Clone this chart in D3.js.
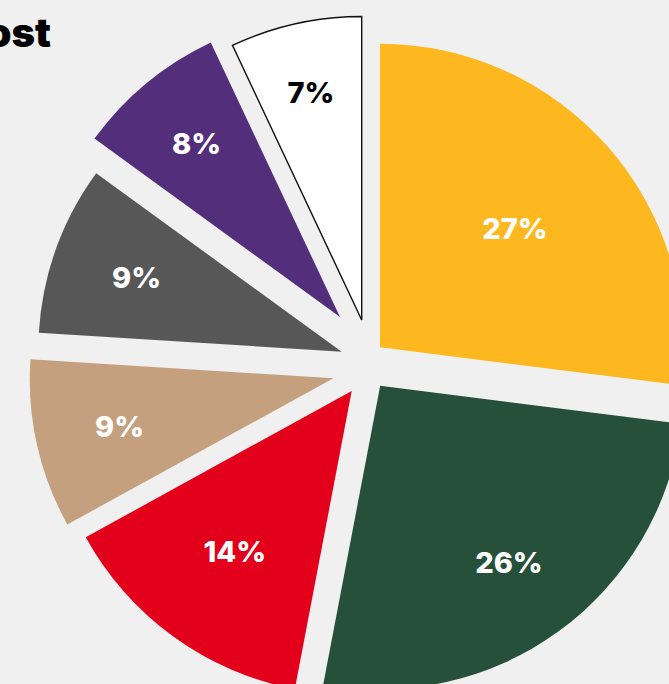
<!DOCTYPE html>
<html>
<head>
<meta charset="utf-8">
<script src="https://cdn.jsdelivr.net/npm/d3@7"></script>
<style>
  html, body { margin: 0; padding: 0; background: #f0f0f0; overflow: hidden; }
  svg { display: block; }
</style>
</head>
<body>
<svg id="chart" width="669" height="684"></svg>
<script>
// Segment shares, clockwise from 12 o'clock
const segments = ["Segment A", "Segment B", "Segment C", "Segment D", "Segment E", "Segment F", "Segment G"];
const shares = [27, 26, 14, 9, 9, 8, 7];
const titleText = "cost";

// Styling
const fills = ["#fdb81f", "#26503a", "#e3001b", "#c4a07f", "#575757", "#532e7b", "#ffffff"];
const labelInk = ["#ffffff", "#ffffff", "#ffffff", "#ffffff", "#ffffff", "#ffffff", "#000000"];

// Layout: pie centre, radius, per-slice pull-out and label distance
const W = 669, H = 684;
const cx = 356, cy = 356;
const radius = 303.5;
const pullOut = [[24, -8.7], [24.2, 29.8], [-4.3, 35], [-22.7, 22.3], [-14.3, -4.3], [-16, -39], [5.7, -36]];
const labelDist = [180, 219, 199, 219, 218, 225, 233];

const svg = d3.select("#chart");
svg.append("rect").attr("width", W).attr("height", H).attr("fill", "#f0f0f0");

const pie = d3.pie().sort(null).startAngle(0).endAngle(2 * Math.PI);
const arcs = pie(shares);
const arc = d3.arc().innerRadius(0).outerRadius(radius);

const g = svg.append("g").attr("transform", `translate(${cx},${cy})`);

const slice = g.selectAll("g.slice")
  .data(arcs)
  .join("g")
  .attr("class", "slice")
  .attr("transform", (d, i) => `translate(${pullOut[i][0]},${pullOut[i][1]})`);

slice.append("path")
  .attr("d", arc)
  .attr("fill", (d, i) => fills[i])
  .attr("stroke", (d, i) => fills[i] === "#ffffff" ? "#111111" : "none")
  .attr("stroke-width", 1.4)
  .attr("stroke-linejoin", "miter");

slice.append("text")
  .attr("x", (d, i) => Math.sin((d.startAngle + d.endAngle) / 2) * labelDist[i])
  .attr("y", (d, i) => -Math.cos((d.startAngle + d.endAngle) / 2) * labelDist[i])
  .attr("dy", "0.36em")
  .attr("text-anchor", "middle")
  .attr("font-family", "Inter, 'Liberation Sans', Arial, sans-serif")
  .attr("font-weight", 800)
  .attr("font-size", 29)
  .attr("fill", (d, i) => labelInk[i])
  .text(d => d.data + "%");

// Title, running off the left edge
svg.append("text")
  .attr("x", 51)
  .attr("y", 47)
  .attr("text-anchor", "end")
  .attr("font-family", "Inter, 'Liberation Sans', Arial, sans-serif")
  .attr("font-weight", 900)
  .attr("font-size", 40)
  .attr("fill", "#000000")
  .text(titleText);
</script>
</body>
</html>
